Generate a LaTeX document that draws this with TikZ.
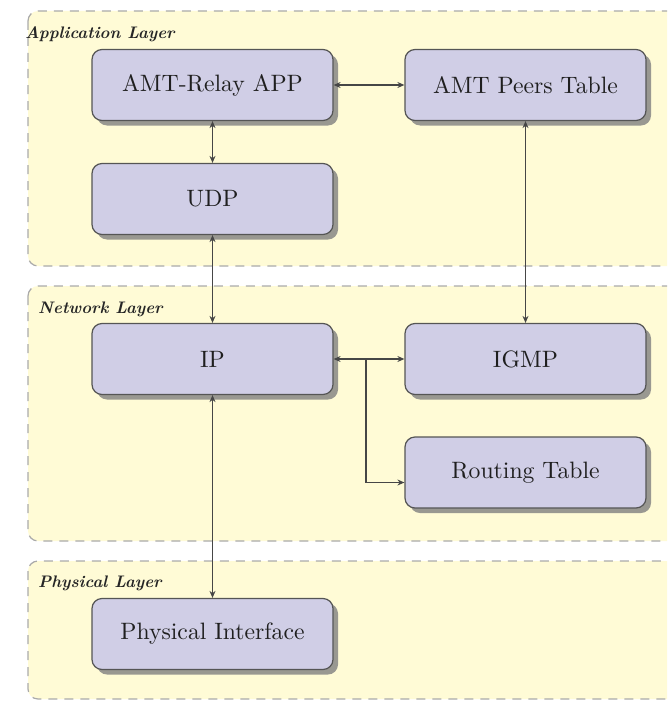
\documentclass[tikz,border=0pt]{standalone}
\usepackage{graphicx}
\usetikzlibrary{shadows,arrows.meta}
\definecolor{layerfill}{RGB}{255,251,214}
\definecolor{layerdraw}{RGB}{170,170,170}
\definecolor{boxfill}{RGB}{208,206,230}
\definecolor{boxdraw}{RGB}{85,85,85}
\definecolor{arrowc}{RGB}{70,70,70}
\newcommand{\bigtxt}[1]{\scalebox{2.37}{#1}}
\newcommand{\lyrtxt}[1]{\scalebox{1.67}{\bfseries\itshape #1}}
\tikzset{
  layerbox/.style={draw=layerdraw, fill=layerfill, dashed, dash pattern=on 9pt off 7pt, line width=1.2pt, rounded corners=10pt},
  layertitle/.style={anchor=base west, inner sep=0pt, font=\normalsize, text=black!85},
  block/.style={draw=boxdraw, fill=boxfill, line width=1.2pt, rounded corners=10pt, minimum width=241pt, minimum height=71pt, inner sep=0pt,
    font=\normalsize, text=black!88,
    drop shadow={shadow xshift=5pt, shadow yshift=-5pt, fill=black!50, opacity=0.8}},
  conn/.style={draw=arrowc, line width=1.2pt, {Stealth[length=7pt,width=6pt]}-{Stealth[length=7pt,width=6pt]}},
  oneway/.style={draw=arrowc, line width=1.2pt, -{Stealth[length=7pt,width=6pt]}}
}
\begin{document}
\begin{tikzpicture}[x=1pt,y=-1pt]
\useasboundingbox (0,0) rectangle (667,701);
\clip (0,0) rectangle (667,701);
% layers
\path[layerbox] (28,11) rectangle (690,266);
\path[layerbox] (28,286) rectangle (690,541);
\path[layerbox] (28,561) rectangle (690,699);
\node[layertitle] (tapp) at (25,38) {\lyrtxt{Application Layer}};
\node[layertitle] (tnet) at (38,313) {\lyrtxt{Network Layer}};
\node[layertitle] (tphy) at (38,587) {\lyrtxt{Physical Layer}};
% blocks
\node[block] (app) at (212.5,85) {\bigtxt{AMT-Relay APP}};
\node[block] (peers) at (525.5,85) {\bigtxt{AMT Peers Table}};
\node[block] (udp) at (212.5,199) {\bigtxt{UDP}};
\node[block] (ip) at (212.5,359) {\bigtxt{IP}};
\node[block] (igmp) at (525.5,359) {\bigtxt{IGMP}};
\node[block] (rt) at (525.5,472.5) {\bigtxt{Routing Table}};
\node[block] (phy) at (212.5,634) {\bigtxt{Physical Interface}};
% connectors
\draw[conn] (app) -- (peers);
\draw[conn] (app) -- (udp);
\draw[conn] (udp) -- (ip);
\draw[conn] (peers) -- (igmp);
\draw[conn] (ip) -- (igmp);
\draw[conn] (ip) -- (phy);
\coordinate (br) at (366,359);
\draw[oneway] (br) |- ([yshift=-10pt]rt.west);
\end{tikzpicture}
\end{document}
